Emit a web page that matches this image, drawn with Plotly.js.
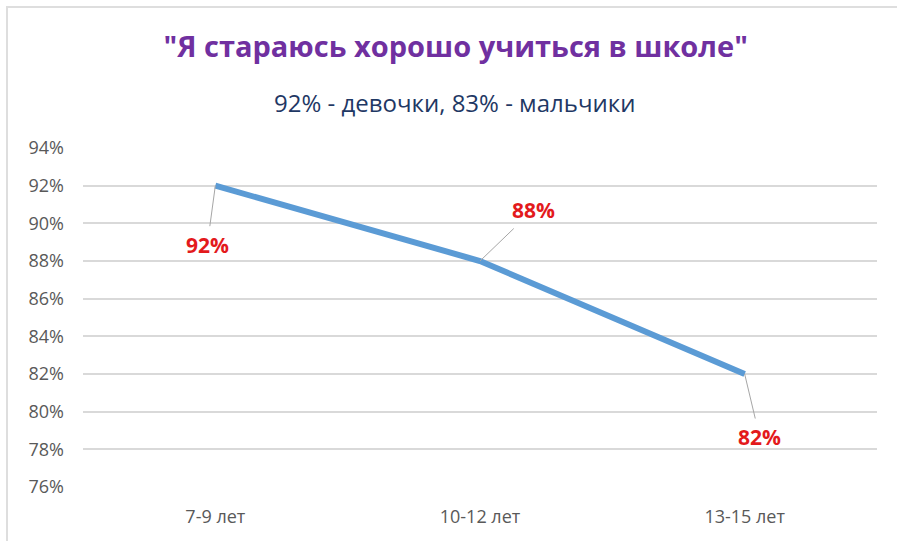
<!DOCTYPE html>
<html><head><meta charset="utf-8">
<script src="https://cdn.plot.ly/plotly-3.0.1.min.js"></script>
<style>
body{margin:0;padding:0;background:#fff;overflow:hidden}
#wrap{position:relative;width:897px;height:541px}
#chart{width:897px;height:541px}
#frame{position:absolute;left:6px;top:6px;width:900px;height:600px;border:2px solid #dedede;pointer-events:none}
</style></head>
<body><div id="wrap"><div id="chart"></div><div id="frame"></div></div>
<script>
const categories = ["7-9 лет", "10-12 лет", "13-15 лет"];
const values = [0.92, 0.88, 0.82];
const labels = ["92%", "88%", "82%"];
const labelOffsetX = [-8, 53, 15];
const labelOffsetY = [59, -51, 63];
const titleText = '"Я стараюсь хорошо учиться в школе"';
const subtitleText = '92% - девочки, 83% - мальчики';

const FONT = '"Open Sans", sans-serif';

const trace = {
  x: categories, y: values, type: 'scatter', mode: 'lines',
  line: {color: '#5B9BD5', width: 6},
  hoverinfo: 'skip'
};

const annotations = categories.map((c, i) => ({
  x: c, y: values[i], xref: 'x', yref: 'y',
  text: '<b>' + labels[i] + '</b>',
  showarrow: true, arrowhead: 0, arrowwidth: 1, arrowcolor: '#A6A6A6',
  ax: labelOffsetX[i], ay: labelOffsetY[i],
  font: {family: FONT, size: 21, color: '#E31A1C'},
  borderpad: 4
}));
annotations.push({
  xref: 'paper', yref: 'paper', x: 0.468, y: 1, yshift: 46, xanchor: 'center', yanchor: 'middle',
  text: subtitleText, showarrow: false,
  font: {family: FONT, size: 24, color: '#1F3864'}
});

const layout = {
  width: 897, height: 541,
  margin: {l: 83, r: 20, t: 148, b: 54},
  paper_bgcolor: '#fff', plot_bgcolor: '#fff',
  title: {text: '<b>' + titleText + '</b>', x: 0.508, xanchor: 'center', y: 0.913, yanchor: 'middle',
    font: {family: FONT, size: 29, color: '#7030A0'}},
  xaxis: {type: 'category', range: [-0.5, 2.5], showgrid: false, zeroline: false, showline: false,
    ticks: '', tickfont: {family: FONT, size: 18, color: '#595959'}, ticklabelstandoff: 17},
  yaxis: {range: [0.76, 0.94], dtick: 0.02, tick0: 0.76, tickformat: '.0%', showgrid: true,
    gridcolor: '#D9D9D9', gridwidth: 2, zeroline: false, showline: false, ticks: '',
    tickfont: {family: FONT, size: 18, color: '#595959'}, ticklabelstandoff: 18},
  showlegend: false,
  annotations: annotations
};

Plotly.newPlot('chart', [trace], layout, {displayModeBar: false, staticPlot: true});
</script></body></html>
